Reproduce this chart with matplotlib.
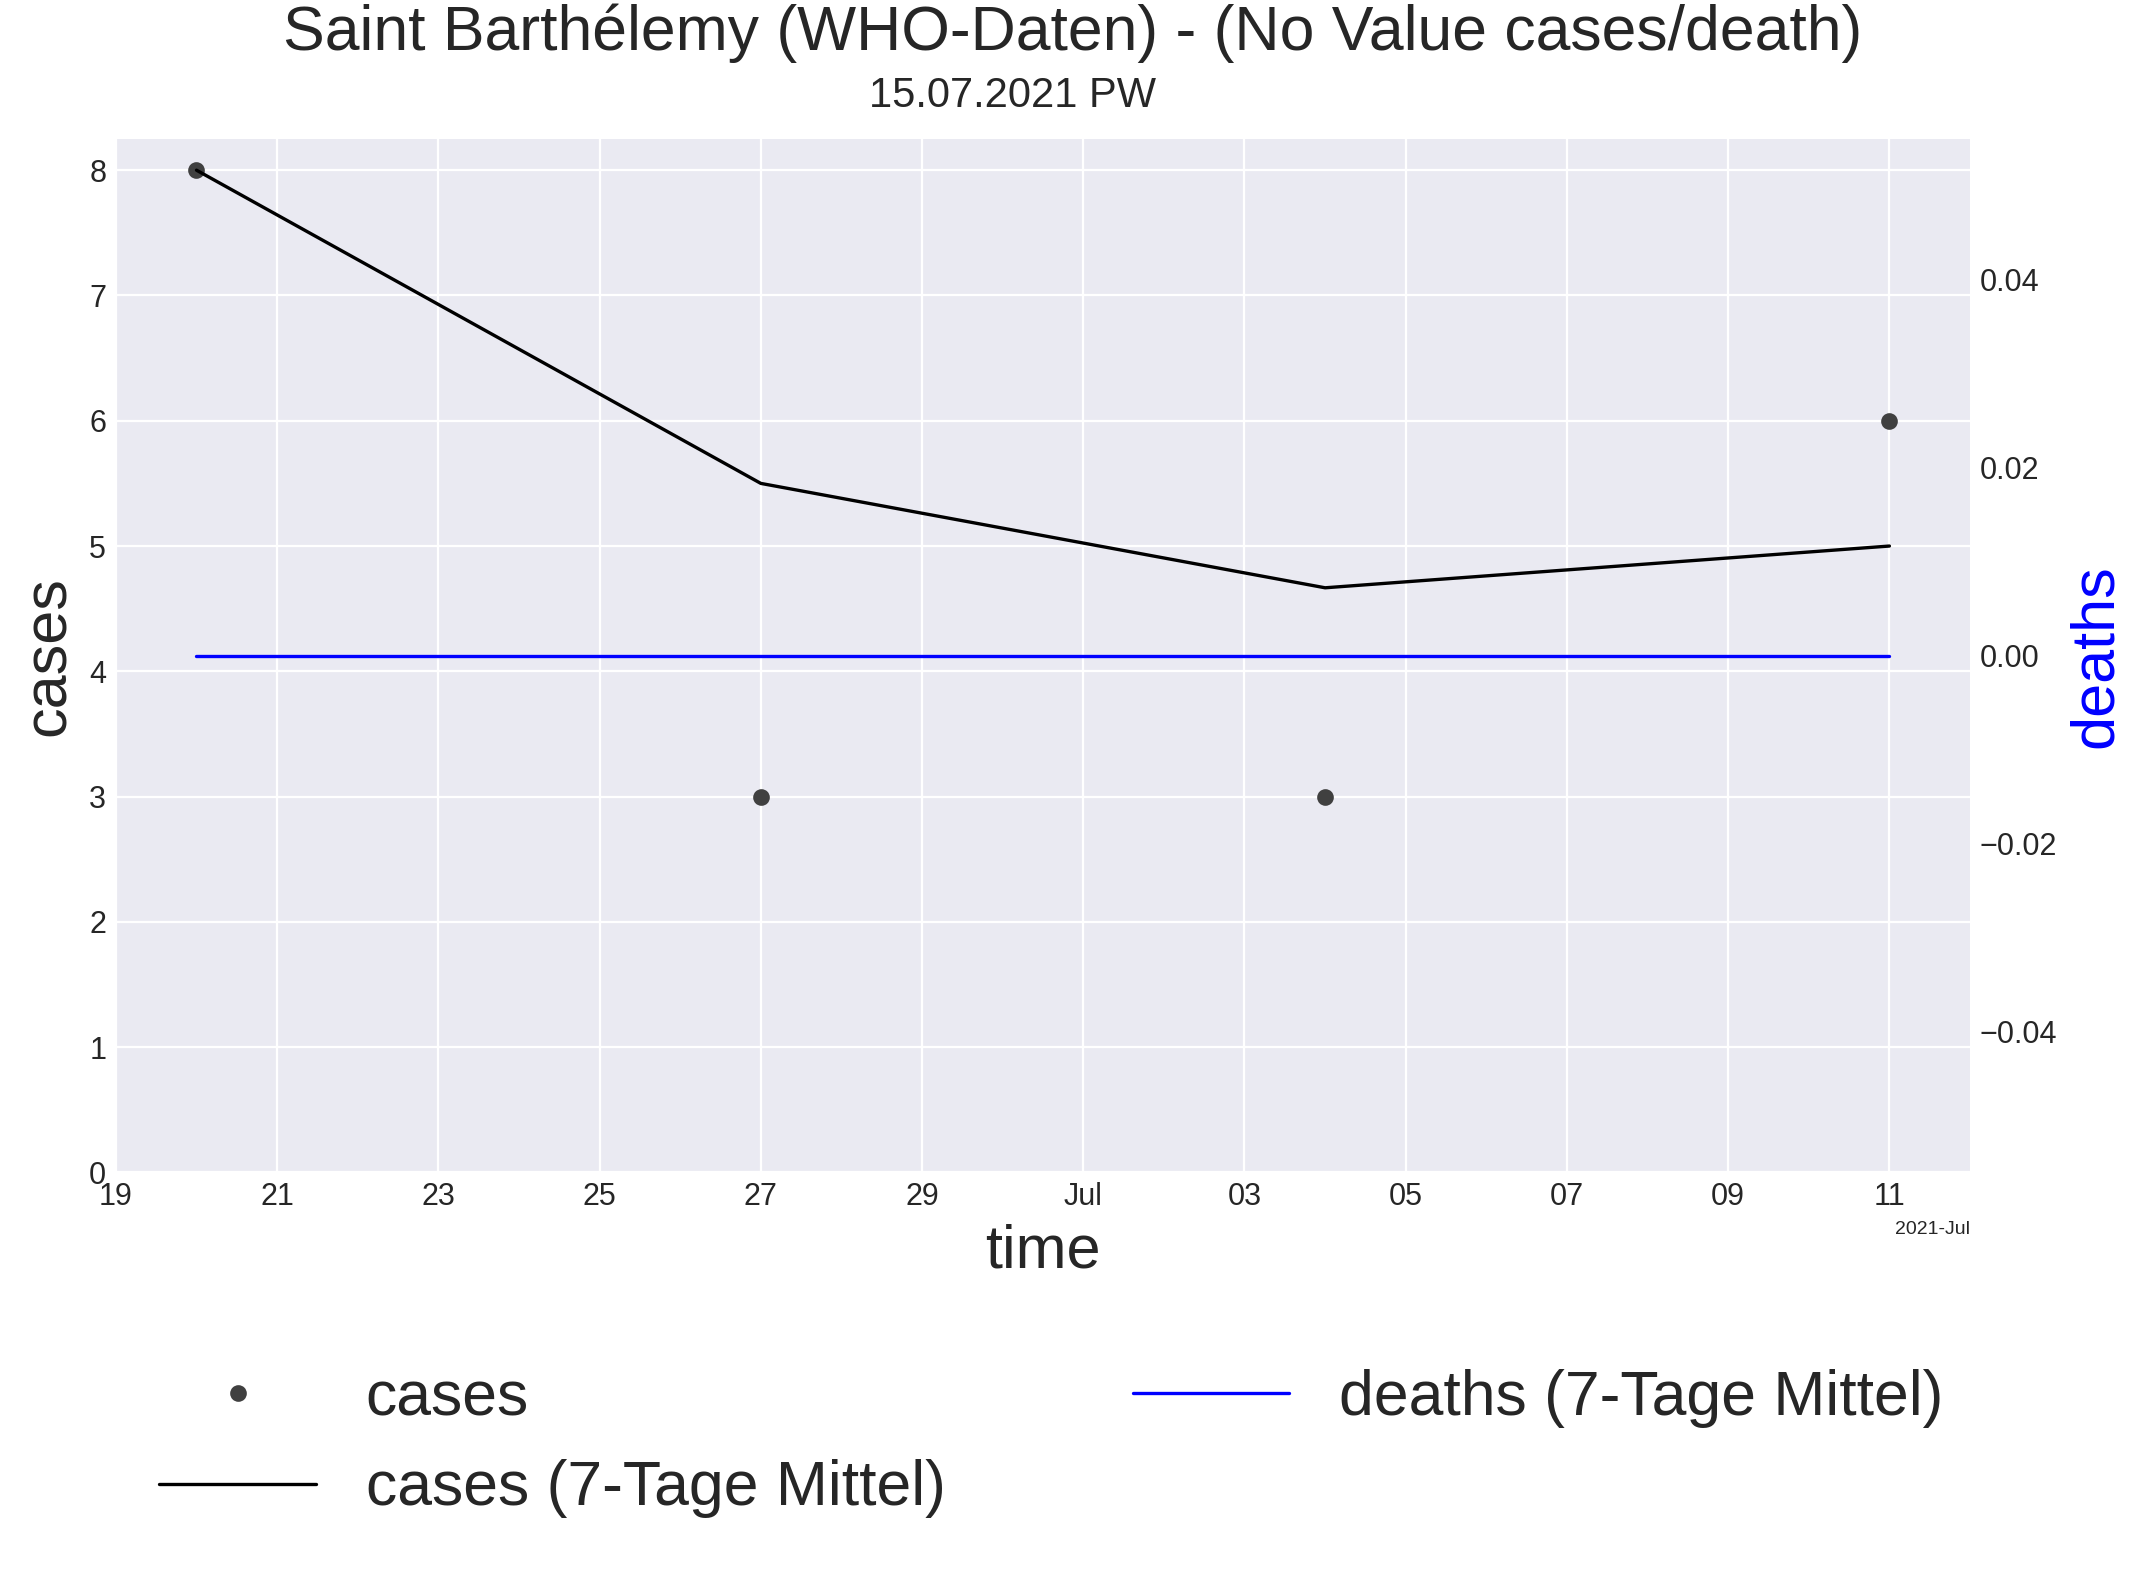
import datetime as dt
import numpy as np
import matplotlib
matplotlib.use('Agg')
import matplotlib.pyplot as plt
import matplotlib.dates as mdates

plt.style.use('seaborn-v0_8-darkgrid')
plt.rcParams['font.family'] = ['Arial', 'Liberation Sans', 'DejaVu Sans']

dates = [dt.date(2021, 6, 20), dt.date(2021, 6, 27), dt.date(2021, 7, 4), dt.date(2021, 7, 11)]
cases = [8, 3, 3, 6]
cases_mean = [8, 5.5, 4.6667, 5]
deaths_mean = [0, 0, 0, 0]

fig = plt.figure(figsize=(10.73, 7.89), dpi=200)
ax = fig.add_axes([0.054, 0.257, 0.864, 0.655])
ax2 = ax.twinx()

p1, = ax.plot(dates, cases, 'o', color='#404040', markersize=5, label='cases')
p2, = ax.plot(dates, cases_mean, color='black', lw=1.2, label='cases (7-Tage Mittel)')
p3, = ax2.plot(dates, deaths_mean, color='blue', lw=1.2, label='deaths (7-Tage Mittel)')

ax.set_ylim(0, 8.25)
ax2.set_ylim(-0.055, 0.055)
ax2.grid(False)
ax.set_xlim(dt.date(2021, 6, 19), dt.date(2021, 7, 12))
loc = mdates.DayLocator(bymonthday=range(1, 32, 2))
ax.xaxis.set_major_locator(loc)
fmt = mdates.ConciseDateFormatter(loc)
fmt.offset_formats = ['', '%Y', '%Y-%b', '%Y-%b', '%Y-%b-%d', '%Y-%b-%d %H:%M']
ax.xaxis.set_major_formatter(fmt)
ax.tick_params(labelsize=11)
ax2.tick_params(labelsize=11)
ax.xaxis.get_offset_text().set_fontsize(7)

ax.set_xlabel('time', fontsize=22)
ax.set_ylabel('cases', fontsize=22)
ax2.set_ylabel('deaths', fontsize=22, color='blue')

fig.suptitle('Saint Barthélemy (WHO-Daten) - (No Value cases/death)', fontsize=22.5, y=0.998)
fig.text(0.472, 0.932, '15.07.2021 PW', fontsize=15, ha='center')

fig.legend(handles=[p1, p2, p3], loc='center', bbox_to_anchor=(0.49, 0.085), ncol=2,
           fontsize=22.5, frameon=False, handlelength=2.5, columnspacing=3)

fig.savefig('out.png', dpi=200)
